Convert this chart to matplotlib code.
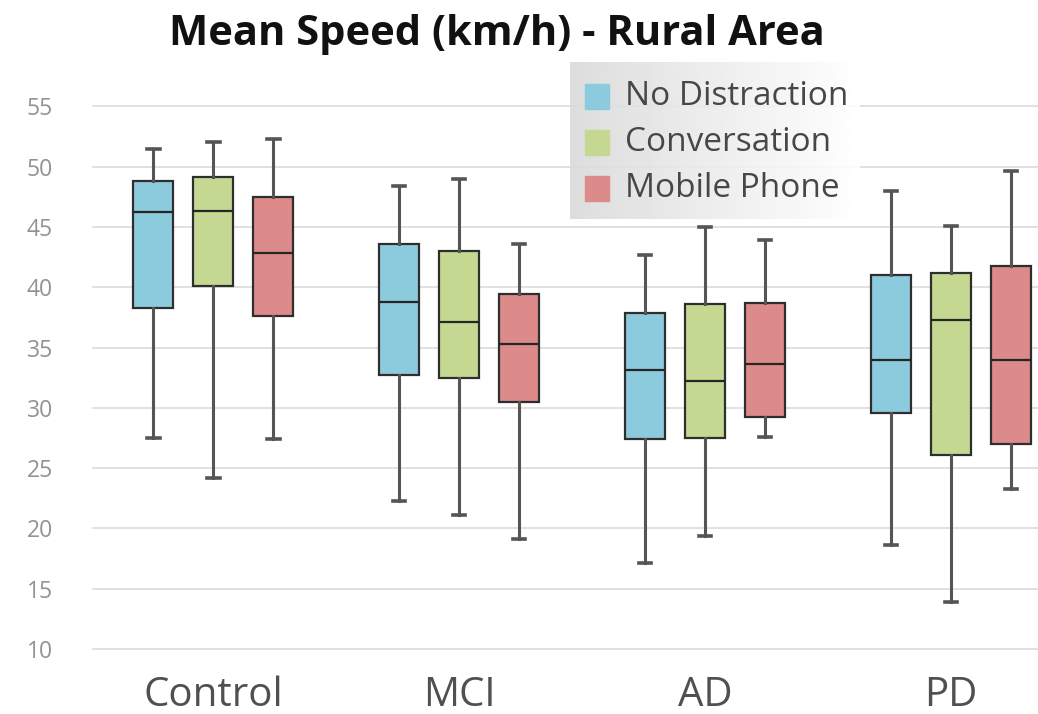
import matplotlib
matplotlib.use("Agg")
import matplotlib.pyplot as plt
import numpy as np

plt.rcParams["font.family"] = ["Open Sans", "DejaVu Sans"]

groups = ["Control", "MCI", "AD", "PD"]
conditions = ["No Distraction", "Conversation", "Mobile Phone"]
colors = ["#8ccbdd", "#c5d891", "#dc8a8a"]

# per condition, per group: (whislo, q1, med, q3, whishi)
whislo = [[27.5, 22.3, 17.1, 18.6],
          [24.2, 21.1, 19.4, 13.9],
          [27.4, 19.1, 27.6, 23.3]]
q1 = [[38.3, 32.7, 27.4, 29.6],
      [40.1, 32.5, 27.5, 26.1],
      [37.6, 30.5, 29.2, 27.0]]
med = [[46.2, 38.8, 33.1, 34.0],
       [46.3, 37.1, 32.2, 37.3],
       [42.8, 35.3, 33.6, 34.0]]
q3 = [[48.8, 43.6, 37.9, 41.0],
      [49.1, 43.0, 38.6, 41.2],
      [47.5, 39.4, 38.7, 41.8]]
whishi = [[51.5, 48.4, 42.7, 48.0],
          [52.0, 49.0, 45.0, 45.1],
          [52.3, 43.6, 43.9, 49.6]]

fig = plt.figure(figsize=(10.38, 7.14), dpi=100, facecolor="white")
ax = fig.add_axes([0.0896, 0.091, 0.9104, 0.777])

offset, width = 0.244, 0.163
for c in range(3):
    stats = [dict(whislo=whislo[c][g], q1=q1[c][g], med=med[c][g],
                  q3=q3[c][g], whishi=whishi[c][g], fliers=[])
             for g in range(4)]
    pos = np.arange(4) + (c - 1) * offset
    ax.bxp(stats, positions=pos, widths=width, patch_artist=True,
           showfliers=False, manage_ticks=False,
           boxprops=dict(facecolor=colors[c], edgecolor="#2e2e2e", linewidth=1.6),
           medianprops=dict(color="#262626", linewidth=1.6),
           whiskerprops=dict(color="#555555", linewidth=2.2),
           capprops=dict(color="#555555", linewidth=2.6),
           capwidths=0.05, zorder=3)

ax.set_xlim(-0.49, 3.355)
ax.set_ylim(10, 56)
ax.set_yticks(np.arange(10, 56, 5))
ax.set_xticks(np.arange(4))
ax.set_xticklabels(groups, fontsize=29, color="#505050")
ax.tick_params(axis="x", length=0, pad=19)
ax.tick_params(axis="y", length=0, pad=29, labelsize=16.5, labelcolor="#929292")
ax.grid(True, axis="y", color="#d9d9d9", linewidth=1.1, zorder=0)
for s in ax.spines.values():
    s.set_visible(False)
for gl in ax.get_ygridlines():
    gl.set_clip_on(False)

# legend with soft grey gradient panel
lax = fig.add_axes([570 / 1038, 1 - 219 / 714, 290 / 1038, 157 / 714])
grad = np.linspace(0.885, 1.0, 256) ** 1.3
lax.imshow(np.tile(grad, (10, 1)), cmap="gray", vmin=0, vmax=1,
           aspect="auto", extent=[0, 1, 0, 1], alpha=0.9)
lax.set_xlim(0, 1)
lax.set_ylim(0, 1)
lax.axis("off")
for i, (name, col) in enumerate(zip(conditions, colors)):
    y = 0.78 - i * 0.292
    lax.add_patch(plt.Rectangle((0.05, y - 0.08), 0.085, 0.16, color=col,
                                transform=lax.transAxes))
    lax.text(0.19, y, name, fontsize=24, color="#474747", va="center",
             transform=lax.transAxes)

fig.text(0.479, 0.937, "Mean Speed (km/h) - Rural Area", ha="center",
         va="baseline", fontsize=30, fontweight="bold", color="#111111")

plt.savefig("out.png", dpi=100, facecolor="white")
plt.close()
